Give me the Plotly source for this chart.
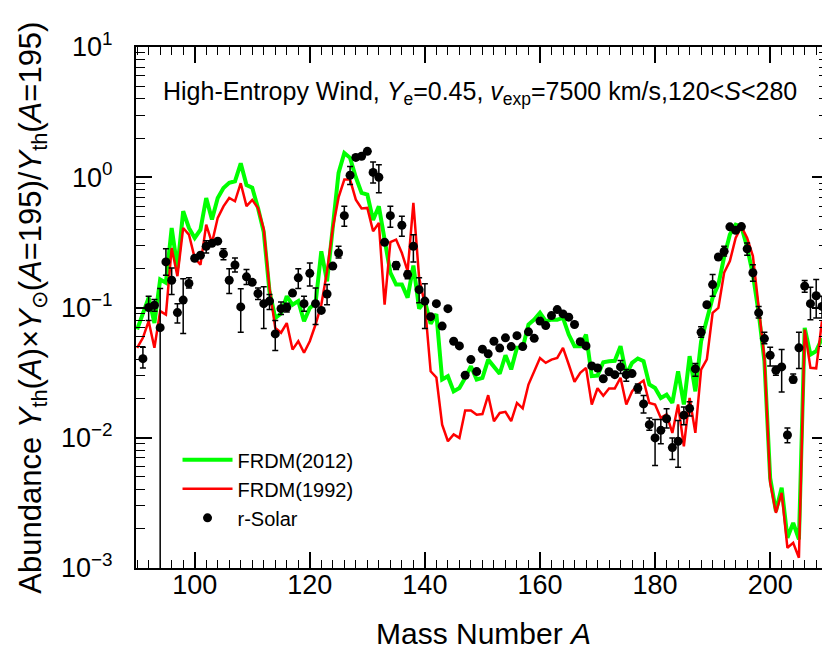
import numpy as np
import plotly.graph_objects as go

# mass numbers
mass_lines = list(range(90, 210))
mass_solar = list(range(91, 210))

# FRDM(2012) high-entropy wind abundances (normalised at A=195)
frdm2012 = [
    0.068, 0.088, 0.119, 0.076, 0.164, 0.155, 0.408, 0.201, 0.548, 0.408,   # 90-99
    0.342, 0.396, 0.693, 0.473, 0.693, 0.828, 0.906, 0.931, 1.28, 0.87,     # 100-109
    0.83, 0.58, 0.38, 0.133, 0.083, 0.09, 0.122, 0.105, 0.112, 0.0785,      # 110-119
    0.099, 0.108, 0.27, 0.159, 0.433, 1.08, 1.535, 1.41, 1.0, 0.758,        # 120-129
    0.736, 0.47, 0.598, 0.335, 0.185, 0.15, 0.15, 0.119, 0.21, 0.098,       # 130-139
    0.112, 0.075, 0.089, 0.028, 0.0297, 0.0227, 0.0241, 0.0288, 0.0354, 0.028,   # 140-149
    0.0288, 0.0398, 0.0354, 0.031, 0.043, 0.0335, 0.049, 0.049, 0.074, 0.0807,   # 150-159
    0.091, 0.0785, 0.0807, 0.0807, 0.0832, 0.062, 0.0505, 0.0505, 0.062, 0.0297, # 160-169
    0.030, 0.038, 0.0387, 0.039, 0.0505, 0.0305, 0.0376, 0.0406, 0.0387, 0.0256, # 170-179
    0.0241, 0.0202, 0.0214, 0.0185, 0.0324, 0.018, 0.0423, 0.0227, 0.055, 0.0832, # 180-189
    0.119, 0.15, 0.244, 0.363, 0.433, 0.418, 0.29, 0.179, 0.091, 0.0387,    # 190-199
    0.0049, 0.00273, 0.00413, 0.00171, 0.00222, 0.00166, 0.0697, 0.0435, 0.0462, 0.058,  # 200-209
]

# FRDM(1992)
frdm1992 = [
    0.049, 0.0585, 0.0785, 0.049, 0.0938, 0.0883, 0.286, 0.174, 0.408, 0.363,   # 90-99
    0.24, 0.213, 0.432, 0.313, 0.488, 0.598, 0.693, 0.654, 0.9, 0.6,            # 100-109
    0.67, 0.58, 0.40, 0.14, 0.0697, 0.064, 0.076, 0.0475, 0.0551, 0.0449,       # 110-119
    0.0551, 0.074, 0.105, 0.19, 0.408, 0.7, 0.959, 0.959, 0.673, 0.575,         # 120-129
    0.581, 0.385, 0.446, 0.105, 0.318, 0.332, 0.262, 0.19, 0.635, 0.169,        # 130-139
    0.105, 0.0324, 0.029, 0.0126, 0.0094, 0.0106, 0.00997, 0.0162, 0.0162, 0.015,   # 140-149
    0.0152, 0.0212, 0.0134, 0.0155, 0.0158, 0.0134, 0.0185, 0.0168, 0.0256, 0.0324, # 150-159
    0.041, 0.0376, 0.0398, 0.041, 0.049, 0.0365, 0.0269, 0.0315, 0.0344, 0.018,    # 160-169
    0.024, 0.021, 0.0239, 0.0239, 0.0289, 0.018, 0.0227, 0.0256, 0.0275, 0.0185,   # 170-179
    0.018, 0.0142, 0.0151, 0.0109, 0.018, 0.0086, 0.0202, 0.0109, 0.0334, 0.04,    # 180-189
    0.091, 0.0993, 0.185, 0.227, 0.342, 0.418, 0.342, 0.248, 0.0993, 0.041,        # 190-199
    0.0045, 0.00265, 0.00378, 0.00143, 0.00156, 0.0012, 0.0676, 0.0344, 0.0341, 0.0785,  # 200-209
]

# solar r-process abundances, with upper / lower ends of the error bars
solar = [
    0.0405, 0.100, 0.104, 0.070, 0.224, 0.162, 0.0914, 0.114, 0.153,            # 91-99
    0.239, 0.252, 0.295, 0.311, 0.323, 0.258, 0.162, 0.212, 0.101, 0.172,       # 100-109
    0.156, 0.128, 0.107, 0.112, 0.0627, 0.098, 0.100, 0.129, 0.169, 0.107,      # 110-119
    0.183, 0.107, 0.095, 0.127, 0.208, 0.262, 0.507, 1.035, 1.42, 1.45,         # 120-129
    1.58, 1.09, 1.0, 0.317, 0.507, 0.211, 0.428, 0.179, 0.295, 0.137,           # 130-139
    0.112, 0.085, 0.107, 0.072, 0.098, 0.0551, 0.0507, 0.0302, 0.0398, 0.0322,  # 140-149
    0.0479, 0.0441, 0.0551, 0.0488, 0.0585, 0.0501, 0.0608, 0.0501, 0.065, 0.058,   # 150-159
    0.0786, 0.0726, 0.0867, 0.0964, 0.0893, 0.0843, 0.074, 0.0547, 0.0507, 0.0356,  # 160-169
    0.0343, 0.0284, 0.0321, 0.0305, 0.035, 0.0305, 0.0311, 0.024, 0.0182, 0.0126,   # 170-179
    0.00997, 0.0114, 0.014, 0.0084, 0.0094, 0.0149, 0.0168, 0.0338, 0.0646, 0.105,  # 180-189
    0.150, 0.244, 0.270, 0.416, 0.392, 0.418, 0.282, 0.185, 0.091, 0.0577,      # 190-199
    0.043, 0.033, 0.035, 0.0105, 0.028, 0.049, 0.146, 0.107, 0.123, 0.102,      # 200-209
]
solar_hi = [
    0.0496, 0.122, 0.115, 0.140, 0.282, 0.201, 0.107, 0.166, 0.169,
    0.239, 0.252, 0.326, 0.311, 0.323, 0.282, 0.198, 0.240, 0.139, 0.196,
    0.156, 0.141, 0.144, 0.126, 0.0794, 0.110, 0.108, 0.129, 0.198, 0.122,
    0.220, 0.141, 0.095, 0.150, 0.208, 0.295, 0.598, 1.21, 1.42, 1.45,
    1.58, 1.31, 1.25, 0.317, 0.598, 0.224, 0.502, 0.191, 0.362, 0.169,
    0.152, 0.085, 0.107, 0.072, 0.098, 0.0551, 0.0507, 0.0302, 0.0398, 0.0322,
    0.0479, 0.0441, 0.0551, 0.0488, 0.0585, 0.0501, 0.0608, 0.0501, 0.065, 0.058,
    0.0786, 0.0726, 0.0867, 0.0964, 0.0893, 0.0843, 0.074, 0.0547, 0.0507, 0.0356,
    0.0343, 0.0284, 0.0321, 0.0305, 0.0392, 0.0334, 0.0311, 0.0259, 0.0211, 0.0142,
    0.0138, 0.0138, 0.0167, 0.00997, 0.01355, 0.0172, 0.0189, 0.0372, 0.071, 0.105,
    0.179, 0.244, 0.295, 0.416, 0.392, 0.418, 0.313, 0.213, 0.102, 0.0646,
    0.0496, 0.0355, 0.0475, 0.0119, 0.0309, 0.0646, 0.161, 0.143, 0.164, 0.122,
]
solar_lo = [
    0.0343, 0.0794, 0.0937, 0.0002, 0.177, 0.126, 0.0762, 0.0631, 0.141,
    0.239, 0.252, 0.262, 0.311, 0.323, 0.233, 0.128, 0.187, 0.0646, 0.150,
    0.156, 0.115, 0.0689, 0.0964, 0.0467, 0.0883, 0.0925, 0.129, 0.140, 0.0937,
    0.146, 0.074, 0.095, 0.105, 0.208, 0.240, 0.421, 0.878, 1.42, 1.45,
    1.58, 0.904, 0.759, 0.317, 0.413, 0.196, 0.352, 0.166, 0.224, 0.109,
    0.0689, 0.085, 0.107, 0.072, 0.098, 0.0551, 0.0507, 0.0302, 0.0398, 0.0322,
    0.0479, 0.0441, 0.0551, 0.0488, 0.0585, 0.0501, 0.0608, 0.0501, 0.065, 0.058,
    0.0786, 0.0726, 0.0867, 0.0964, 0.0893, 0.0843, 0.074, 0.0547, 0.0507, 0.0356,
    0.0343, 0.0284, 0.0321, 0.0305, 0.0311, 0.0272, 0.0311, 0.0221, 0.0155, 0.0114,
    0.00612, 0.00898, 0.0119, 0.0068, 0.00594, 0.0126, 0.0147, 0.0297, 0.0592, 0.105,
    0.122, 0.244, 0.248, 0.416, 0.392, 0.418, 0.252, 0.159, 0.0832, 0.0528,
    0.0355, 0.0302, 0.0225, 0.00914, 0.0264, 0.034, 0.131, 0.0807, 0.0832, 0.0832,
]

x_ticks = [100, 120, 140, 160, 180, 200]
y_ticks = [1e-3, 1e-2, 1e-1, 1, 10]
y_ticktext = ["10<sup>\u22123</sup>", "10<sup>\u22122</sup>", "10<sup>\u22121</sup>",
              "10<sup>0</sup>", "10<sup>1</sup>"]

FONT = "Liberation Sans, Arial, Helvetica, sans-serif"

err_plus = list(np.array(solar_hi) - np.array(solar))
err_minus = list(np.array(solar) - np.array(solar_lo))

fig = go.Figure()
fig.add_trace(go.Scatter(x=mass_lines, y=frdm2012, mode="lines", name="FRDM(2012)",
                         line=dict(color="#00ff00", width=4)))
fig.add_trace(go.Scatter(x=mass_lines, y=frdm1992, mode="lines", name="FRDM(1992)",
                         line=dict(color="#ff0000", width=2.5)))
fig.add_trace(go.Scatter(x=mass_solar, y=solar, mode="markers", name="r-Solar",
                         marker=dict(color="black", size=9),
                         error_y=dict(type="data", array=err_plus, arrayminus=err_minus,
                                      color="black", thickness=1.5, width=3)))

minor_y = [m * 10.0 ** e for e in range(-3, 1) for m in range(2, 10)]

axis_common = dict(showline=True, linecolor="black", linewidth=2, mirror="ticks",
                   ticks="inside", tickcolor="black", tickwidth=1.5, ticklen=16,
                   showgrid=False, zeroline=False,
                   tickfont=dict(family=FONT, size=27, color="black"))

fig.update_xaxes(range=[89.8, 210.05], tickvals=x_ticks, ticklabelstandoff=-8,
                 minor=dict(ticks="inside", ticklen=8, tickwidth=1.2, tickcolor="black",
                            dtick=2, tick0=0, showgrid=False),
                 **axis_common)
fig.update_yaxes(type="log", range=[-3, 1], tickvals=y_ticks, ticktext=y_ticktext,
                 ticklabelstandoff=16,
                 minor=dict(ticks="inside", ticklen=9, tickwidth=1.2, tickcolor="black",
                            tickvals=minor_y, showgrid=False),
                 **axis_common)

fig.add_annotation(text="Mass Number <i>A</i>", xref="paper", yref="paper",
                   x=0.502, y=-0.126, xanchor="center", yanchor="middle", showarrow=False,
                   font=dict(family=FONT, size=30, color="black"))
fig.add_annotation(text="Abundance <i>Y</i><sub>th</sub>(<i>A</i>)\u00d7<i>Y</i><sub>\u2299</sub>(<i>A</i>=195)/<i>Y</i><sub>th</sub>(<i>A</i>=195)",
                   xref="paper", yref="paper", x=-0.15, y=0.5, textangle=-90,
                   xanchor="center", yanchor="middle", showarrow=False,
                   font=dict(family=FONT, size=31, color="black"))
fig.add_annotation(text="High-Entropy Wind, <i>Y</i><sub>e</sub>=0.45, <i>v</i><sub>exp</sub>=7500 km/s,120&lt;<i>S</i>&lt;280",
                   xref="paper", yref="paper", x=0.497, y=0.912, xanchor="center",
                   yanchor="middle", showarrow=False,
                   font=dict(family=FONT, size=25, color="black"))

fig.update_layout(
    width=830, height=650,
    margin=dict(l=128, r=8, t=39, b=90),
    paper_bgcolor="white", plot_bgcolor="white",
    font=dict(family=FONT, color="black"),
    showlegend=True,
    legend=dict(x=0.06, y=0.245, xanchor="left", yanchor="top",
                bgcolor="rgba(0,0,0,0)", itemwidth=50, tracegroupgap=0,
                font=dict(family=FONT, size=20, color="black")),
)

fig.write_html("out.html")
